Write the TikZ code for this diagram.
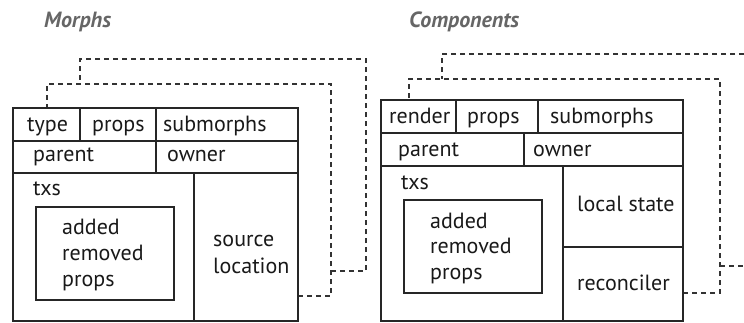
\documentclass[tikz,border=0pt]{standalone}
\usepackage{fontspec}
\setmainfont{PT Sans}
\begin{document}
\begin{tikzpicture}[x=1pt,y=-1pt,
  frame/.style={draw=black!85, line width=1.2pt},
  ghost/.style={draw=black!80, line width=1.1pt, dash pattern=on 5pt off 4pt},
  lbl/.style={anchor=base west, inner sep=0pt, font=\fontsize{22}{26}\selectfont, text=black!90},
  ttl/.style={anchor=base west, inner sep=0pt, font=\fontsize{22}{26}\selectfont\bfseries\itshape, text=black!60}]
\useasboundingbox (0,0) rectangle (744,322);
% ---------- Morphs ----------
\node[ttl] (tm) at (44,27) {Morphs};
\coordinate (m1) at (298,296);
\coordinate (m2) at (331,271);
\draw[ghost] (m1) -- (331,296) -- (331,84) -- (47,84) -- (47,108);
\draw[ghost] (m2) -- (366,271) -- (366,59) -- (80,59) -- (80,84);
\draw[frame] (13,108) rectangle (298,321);
\draw[frame] (13,141) -- (298,141);
\draw[frame] (13,173) -- (298,173);
\draw[frame] (80,108) -- (80,141);
\draw[frame] (156,108) -- (156,173);
\draw[frame] (194,173) -- (194,321);
\draw[frame] (36,207) rectangle (174,300);
\node[lbl] (mtype) at (27,131) {type};
\node[lbl] (mprops) at (92,131) {props};
\node[lbl] (msub) at (163,131) {submorphs};
\node[lbl] (mparent) at (33,161) {parent};
\node[lbl] (mowner) at (167,161) {owner};
\node[lbl] (mtxs) at (33,195) {txs};
\node[lbl] (madd) at (62,234) {added};
\node[lbl] (mrem) at (62,260) {removed};
\node[lbl] (mpr) at (62,286) {props};
\node[lbl] (msrc) at (213,246) {source};
\node[lbl] (mloc) at (213,273) {location};
% ---------- Components ----------
\node[ttl] (tc) at (409,27) {Components};
\draw[ghost] (683,293) -- (720,293) -- (720,79) -- (409,79) -- (409,100);
\draw[ghost] (720,266) -- (744,266);
\draw[ghost] (744,54) -- (442,54) -- (442,79);
\draw[frame] (381,100) rectangle (683,321);
\draw[frame] (381,133) -- (683,133);
\draw[frame] (381,166) -- (683,166);
\draw[frame] (456,100) -- (456,133);
\draw[frame] (538,100) -- (538,133);
\draw[frame] (524,133) -- (524,166);
\draw[frame] (563,166) -- (563,321);
\draw[frame] (563,247) -- (683,247);
\draw[frame] (404,200) rectangle (542,293);
\node[lbl] (crender) at (389,123) {render};
\node[lbl] (cprops) at (467,123) {props};
\node[lbl] (csub) at (550,123) {submorphs};
\node[lbl] (cparent) at (398,156) {parent};
\node[lbl] (cowner) at (533,156) {owner};
\node[lbl] (ctxs) at (401,189) {txs};
\node[lbl] (cadd) at (430,228) {added};
\node[lbl] (crem) at (430,253) {removed};
\node[lbl] (cpr) at (430,279) {props};
\node[lbl] (cloc) at (577,211) {local state};
\node[lbl] (crec) at (577,290) {reconciler};
\end{tikzpicture}
\end{document}
